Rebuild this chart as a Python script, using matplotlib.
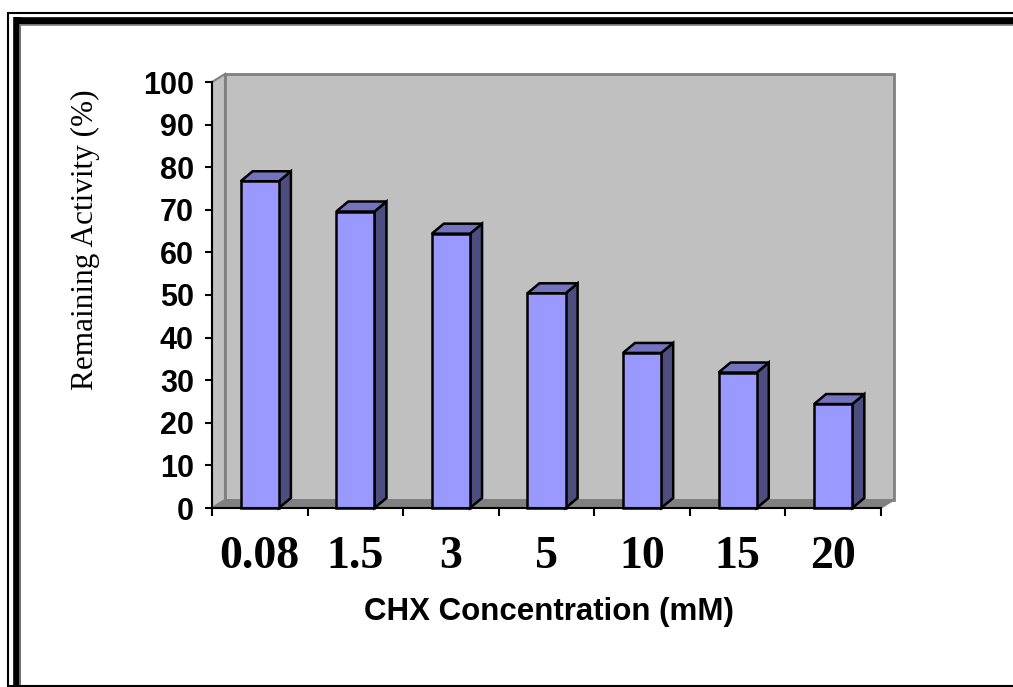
import matplotlib
matplotlib.use("Agg")
import matplotlib.pyplot as plt
from matplotlib.patches import Polygon, Rectangle
from matplotlib.lines import Line2D

# CHX inhibition data
concentrations = ["0.08", "1.5", "3", "5", "10", "15", "20"]
activity = [76.7, 69.6, 64.4, 50.4, 36.4, 31.8, 24.4]
y_ticks = list(range(0, 101, 10))

W, H = 1013, 687
fig = plt.figure(figsize=(W / 100, H / 100), dpi=100)

# axes placed in pixel terms: y-axis at x=212, floor at y=508, 100% at y=82
ax_l, ax_r, ax_b, ax_t = 212, 881, 508, 82
ax = fig.add_axes([ax_l / W, 1 - ax_b / H, (ax_r - ax_l) / W, (ax_b - ax_t) / H])
ax.set_xlim(0, len(concentrations))
ax.set_ylim(0, 100)
ax.patch.set_visible(False)

sx = (ax_r - ax_l) / len(concentrations)   # px per category
sy = (ax_b - ax_t) / 100.0                 # px per percent
DX, DY = 13 / sx, 8 / sy                   # wall depth
BX, BY = 12 / sx, 10 / sy                  # bar depth
n = len(concentrations)

wall = "#c0c0c0"
edge = "#808080"
# side wall, back wall and floor
ax.add_patch(Polygon([(0, 0), (DX, DY), (DX, 100 + DY), (0, 100)], closed=True,
                     fc=wall, ec=edge, lw=1.5, clip_on=False, zorder=1))
ax.add_patch(Rectangle((DX, DY), n, 100, fc=wall, ec=edge, lw=2, clip_on=False, zorder=1))
ax.add_patch(Polygon([(0, 0), (n, 0), (n + DX, DY), (DX, DY)], closed=True,
                     fc=edge, ec=edge, lw=1, clip_on=False, zorder=1))

# 3d-style columns
bw = 0.4
for i, v in enumerate(activity):
    x0 = i + 0.5 - bw / 2
    x1 = x0 + bw
    ax.add_patch(Polygon([(x1, 0), (x1 + BX, BY), (x1 + BX, v + BY), (x1, v)], closed=True,
                         fc="#4d4d80", ec="black", lw=1.8, clip_on=False, zorder=3))
    ax.add_patch(Polygon([(x0, v), (x1, v), (x1 + BX, v + BY), (x0 + BX, v + BY)], closed=True,
                         fc="#7373bf", ec="black", lw=1.8, clip_on=False, zorder=3))
    ax.add_patch(Rectangle((x0, 0), bw, v, fc="#9999ff", ec="black", lw=1.8,
                           clip_on=False, zorder=4))

for s in ["top", "right"]:
    ax.spines[s].set_visible(False)
for s in ["left", "bottom"]:
    ax.spines[s].set_linewidth(1.5)
    ax.spines[s].set_zorder(5)

ax.set_yticks(y_ticks)
ax.set_yticklabels([str(t) for t in y_ticks], fontfamily="Liberation Sans",
                   fontweight="bold", fontsize=22)
ax.tick_params(axis="y", length=5, width=1.5, pad=8)

ax.set_xticks(range(n + 1))
ax.set_xticklabels([])
ax.tick_params(axis="x", which="major", length=6, width=1.5)
ax.set_xticks([i + 0.5 for i in range(n)], minor=True)
ax.set_xticklabels(concentrations, minor=True, fontfamily="Liberation Serif",
                   fontweight="bold", fontsize=33)
ax.tick_params(axis="x", which="minor", length=0, pad=20)

fig.text(85 / W, 1 - 240 / H, "Remaining Activity (%)", rotation=90,
         ha="center", va="center", fontfamily="Liberation Serif", fontsize=22.5)
fig.text(549 / W, 1 - 612 / H, "CHX Concentration (mM)", ha="center", va="center",
         fontfamily="Liberation Sans", fontweight="bold", fontsize=22.5)


def px(x, y):
    return x / W, 1 - y / H


# double border around the chart
def line(p0, p1, lw, color="black"):
    (x0, y0), (x1, y1) = px(*p0), px(*p1)
    fig.add_artist(Line2D([x0, x1], [y0, y1], lw=lw, color=color,
                          transform=fig.transFigure, solid_capstyle="butt"))


line((8, 12.5), (W + 5, 12.5), 1.5)
line((8, 12), (8, H + 5), 1.5)
line((16.5, 20.5), (W + 5, 20.5), 5.5)
line((16.5, 17), (16.5, H + 5), 5.5)
line((20, 24.5), (W + 5, 24.5), 1.2, edge)
line((20, 24), (20, H + 5), 1.2, edge)
line((8, 685.5), (W + 5, 685.5), 1.5)

fig.savefig("out.png", dpi=100)
